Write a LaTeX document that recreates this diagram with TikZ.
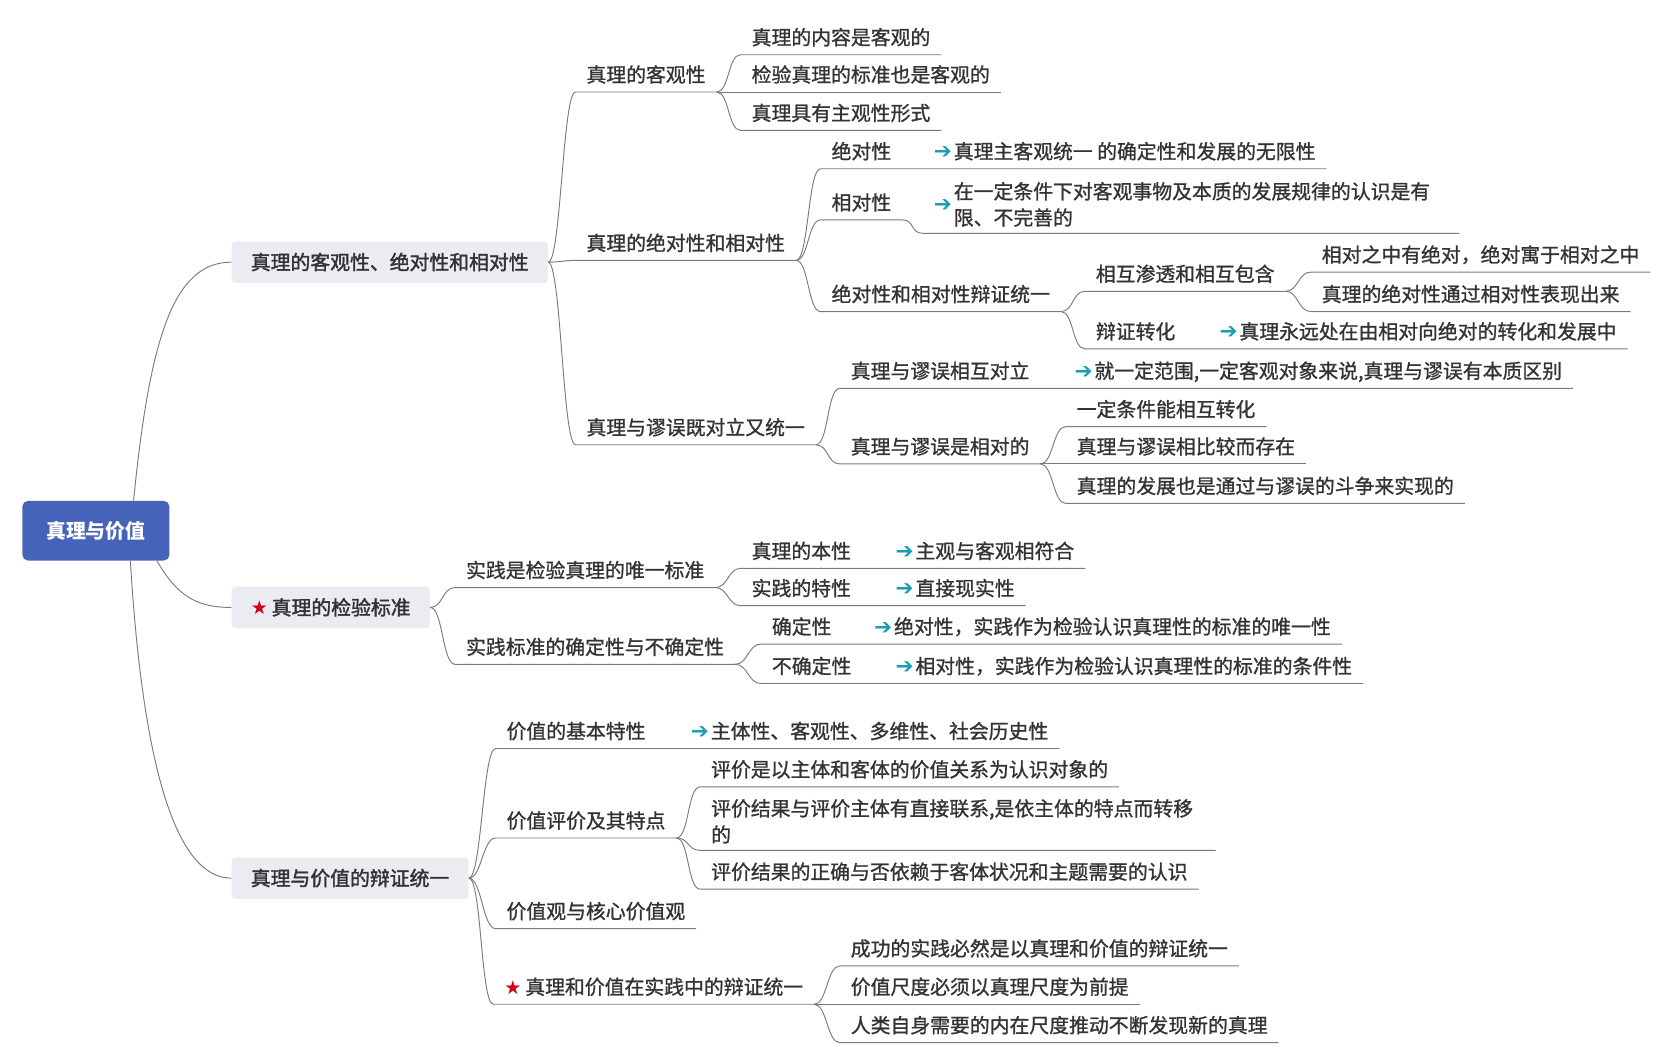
\documentclass[tikz,border=0pt]{standalone}
\usepackage{fontspec}
\setmainfont{Noto Sans CJK SC}[UprightFeatures={FakeBold=1.1}]
\newfontfamily\topicfont{Noto Sans CJK SC}[FakeBold=1.8]
\newfontfamily\symfont{DejaVu Sans}

\definecolor{rootblue}{HTML}{4563B9}
\definecolor{topicgray}{HTML}{EBEBF2}
\definecolor{linkgray}{HTML}{7A7A7A}
\definecolor{ink}{HTML}{333333}
\definecolor{arrowteal}{HTML}{1A9EB3}
\definecolor{starred}{HTML}{D0021B}
\newcommand{\goarrow}{{\symfont\fontsize{11.5pt}{12pt}\selectfont\color{arrowteal}➔}\hspace{1pt}}
\newcommand{\redstar}{{\symfont\fontsize{10.2pt}{12pt}\selectfont\color{starred}★}\hspace{2pt}}

\begin{document}
\begin{tikzpicture}[
  x=0.02cm, y=-0.02cm,
  font=\fontsize{10.6pt}{14pt}\selectfont, text=ink,
  root/.style={fill=rootblue, rounded corners=3pt, text=white, font=\fontsize{10.6pt}{14pt}\selectfont\bfseries, minimum width=2.76cm, minimum height=1.12cm},
  topic/.style={fill=topicgray, rounded corners=2pt, anchor=west, inner xsep=0.36cm, minimum height=0.78cm, text height=9pt, text depth=1pt, font=\fontsize{10.6pt}{14pt}\topicfont},
  sub/.style={anchor=west, inner xsep=0.2cm, inner ysep=0pt, minimum height=0.64cm, text height=9pt, text depth=1pt},
  subtwo/.style={anchor=west, inner xsep=0.2cm, inner ysep=0pt},
  link/.style={draw=linkgray, line width=0.5pt},
  branch/.style={to path={.. controls +(12,0) and +(-12,0) .. (\tikztotarget)}}
]
\useasboundingbox (0,0) rectangle (1568,997);

\node[root] (root) at (90,498) {真理与价值};
\node[topic] (obj) at (217,246) {真理的客观性、绝对性和相对性};
\node[topic] (test) at (217,570) {\redstar 真理的检验标准};
\node[topic] (unity) at (217,824) {真理与价值的辩证统一};

\node[sub] (o1) at (540,70) {真理的客观性};
\node[sub] (o2) at (540,228) {真理的绝对性和相对性};
\node[sub] (o3) at (540,401) {真理与谬误既对立又统一};
\node[sub] (o11) at (695,35) {真理的内容是客观的};
\node[sub] (o12) at (695,70) {检验真理的标准也是客观的};
\node[sub] (o13) at (695,106) {真理具有主观性形式};
\node[sub] (o21) at (770,142) {绝对性};
\node[sub] (d21) at (866,142) {\goarrow 真理主客观统一 的确定性和发展的无限性};
\node[sub] (o22) at (770,190) {相对性};
\node[subtwo] (d22) at (866,194) {\goarrow\begin{tabular}{@{}p{9.28cm}@{}}在一定条件下对客观事物及本质的发展规律的认识是有\\限、不完善的\end{tabular}};
\node[sub] (o23) at (770,276) {绝对性和相对性辩证统一};
\node[sub] (o231) at (1018,257) {相互渗透和相互包含};
\node[sub] (o232) at (1018,311) {辩证转化};
\node[sub] (d232) at (1134,311) {\goarrow 真理永远处在由相对向绝对的转化和发展中};
\node[sub] (o2311) at (1230,239) {相对之中有绝对，绝对寓于相对之中};
\node[sub] (o2312) at (1230,276) {真理的绝对性通过相对性表现出来};
\node[sub] (o31) at (788,348) {真理与谬误相互对立};
\node[sub] (d31) at (998,348) {\goarrow 就一定范围,一定客观对象来说,真理与谬误有本质区别};
\node[sub] (o32) at (788,419) {真理与谬误是相对的};
\node[sub] (o321) at (1000,384) {一定条件能相互转化};
\node[sub] (o322) at (1000,419) {真理与谬误相比较而存在};
\node[sub] (o323) at (1000,456) {真理的发展也是通过与谬误的斗争来实现的};

\node[sub] (t1) at (427,535) {实践是检验真理的唯一标准};
\node[sub] (t2) at (427,607) {实践标准的确定性与不确定性};
\node[sub] (t11) at (695,517) {真理的本性};
\node[sub] (e11) at (830,517) {\goarrow 主观与客观相符合};
\node[sub] (t12) at (695,552) {实践的特性};
\node[sub] (e12) at (830,552) {\goarrow 直接现实性};
\node[sub] (t21) at (714,588) {确定性};
\node[sub] (e21) at (810,588) {\goarrow 绝对性，实践作为检验认识真理性的标准的唯一性};
\node[sub] (t22) at (714,625) {不确定性};
\node[sub] (e22) at (830,625) {\goarrow 相对性，实践作为检验认识真理性的标准的条件性};

\node[sub] (u1) at (465,686) {价值的基本特性};
\node[sub] (v1) at (638,686) {\goarrow 主体性、客观性、多维性、社会历史性};
\node[sub] (u2) at (465,770) {价值评价及其特点};
\node[sub] (u3) at (465,855) {价值观与核心价值观};
\node[sub] (u4) at (463,926) {\redstar 真理和价值在实践中的辩证统一};
\node[sub] (u21) at (657,722) {评价是以主体和客体的价值关系为认识对象的};
\node[subtwo] (u22) at (657,773) {\begin{tabular}{@{}p{9.26cm}@{}}评价结果与评价主体有直接联系,是依主体的特点而转移\\的\end{tabular}};
\node[sub] (u23) at (657,818) {评价结果的正确与否依赖于客体状况和主题需要的认识};
\node[sub] (u41) at (788,890) {成功的实践必然是以真理和价值的辩证统一};
\node[sub] (u42) at (788,926) {价值尺度必须以真理尺度为前提};
\node[sub] (u43) at (788,962) {人类自身需要的内在尺度推动不断发现新的真理};

\draw[link] ([xshift=-0.68cm]root.north east) .. controls +(15,-150) and +(-55,0) .. (obj.west);
\draw[link] ([xshift=-0.24cm]root.south east) .. controls +(20,35) and +(-30,0) .. (test.west);
\draw[link] ([xshift=-0.74cm]root.south east) .. controls +(12,200) and +(-50,0) .. (unity.west);

\draw[link] (obj.east) to[branch] (o1.south west) -- (o1.south east);
\draw[link] (obj.east) to[branch] (o2.south west) -- (o2.south east);
\draw[link] (obj.east) to[branch] (o3.south west) -- (o3.south east);
\draw[link] (o1.south east) to[branch] (o11.south west) -- (o11.south east);
\draw[link] (o1.south east) to[branch] (o12.south west) -- (o12.south east);
\draw[link] (o1.south east) to[branch] (o13.south west) -- (o13.south east);
\draw[link] (o2.south east) to[branch] (o21.south west) -- (d21.south east);
\draw[link] (o2.south east) to[branch] (o22.south west) -- (o22.south east) to[branch] (d22.south west) -- (d22.south east);
\draw[link] (o2.south east) to[branch] (o23.south west) -- (o23.south east);
\draw[link] (o23.south east) to[branch] (o231.south west) -- (o231.south east);
\draw[link] (o23.south east) to[branch] (o232.south west) -- (d232.south east);
\draw[link] (o231.south east) to[branch] (o2311.south west) -- (o2311.south east);
\draw[link] (o231.south east) to[branch] (o2312.south west) -- (o2312.south east);
\draw[link] (o3.south east) to[branch] (o31.south west) -- (d31.south east);
\draw[link] (o3.south east) to[branch] (o32.south west) -- (o32.south east);
\draw[link] (o32.south east) to[branch] (o321.south west) -- (o321.south east);
\draw[link] (o32.south east) to[branch] (o322.south west) -- (o322.south east);
\draw[link] (o32.south east) to[branch] (o323.south west) -- (o323.south east);

\draw[link] (test.east) to[branch] (t1.south west) -- (t1.south east);
\draw[link] (test.east) to[branch] (t2.south west) -- (t2.south east);
\draw[link] (t1.south east) to[branch] (t11.south west) -- (e11.south east);
\draw[link] (t1.south east) to[branch] (t12.south west) -- (e12.south east);
\draw[link] (t2.south east) to[branch] (t21.south west) -- (e21.south east);
\draw[link] (t2.south east) to[branch] (t22.south west) -- (e22.south east);

\draw[link] (unity.east) to[branch] (u1.south west) -- (v1.south east);
\draw[link] (unity.east) to[branch] (u2.south west) -- (u2.south east);
\draw[link] (unity.east) to[branch] (u3.south west) -- (u3.south east);
\draw[link] (unity.east) to[branch] (u4.south west) -- (u4.south east);
\draw[link] (u2.south east) to[branch] (u21.south west) -- (u21.south east);
\draw[link] (u2.south east) to[branch] (u22.south west) -- (u22.south east);
\draw[link] (u2.south east) to[branch] (u23.south west) -- (u23.south east);
\draw[link] (u4.south east) to[branch] (u41.south west) -- (u41.south east);
\draw[link] (u4.south east) to[branch] (u42.south west) -- (u42.south east);
\draw[link] (u4.south east) to[branch] (u43.south west) -- (u43.south east);
\end{tikzpicture}
\end{document}
